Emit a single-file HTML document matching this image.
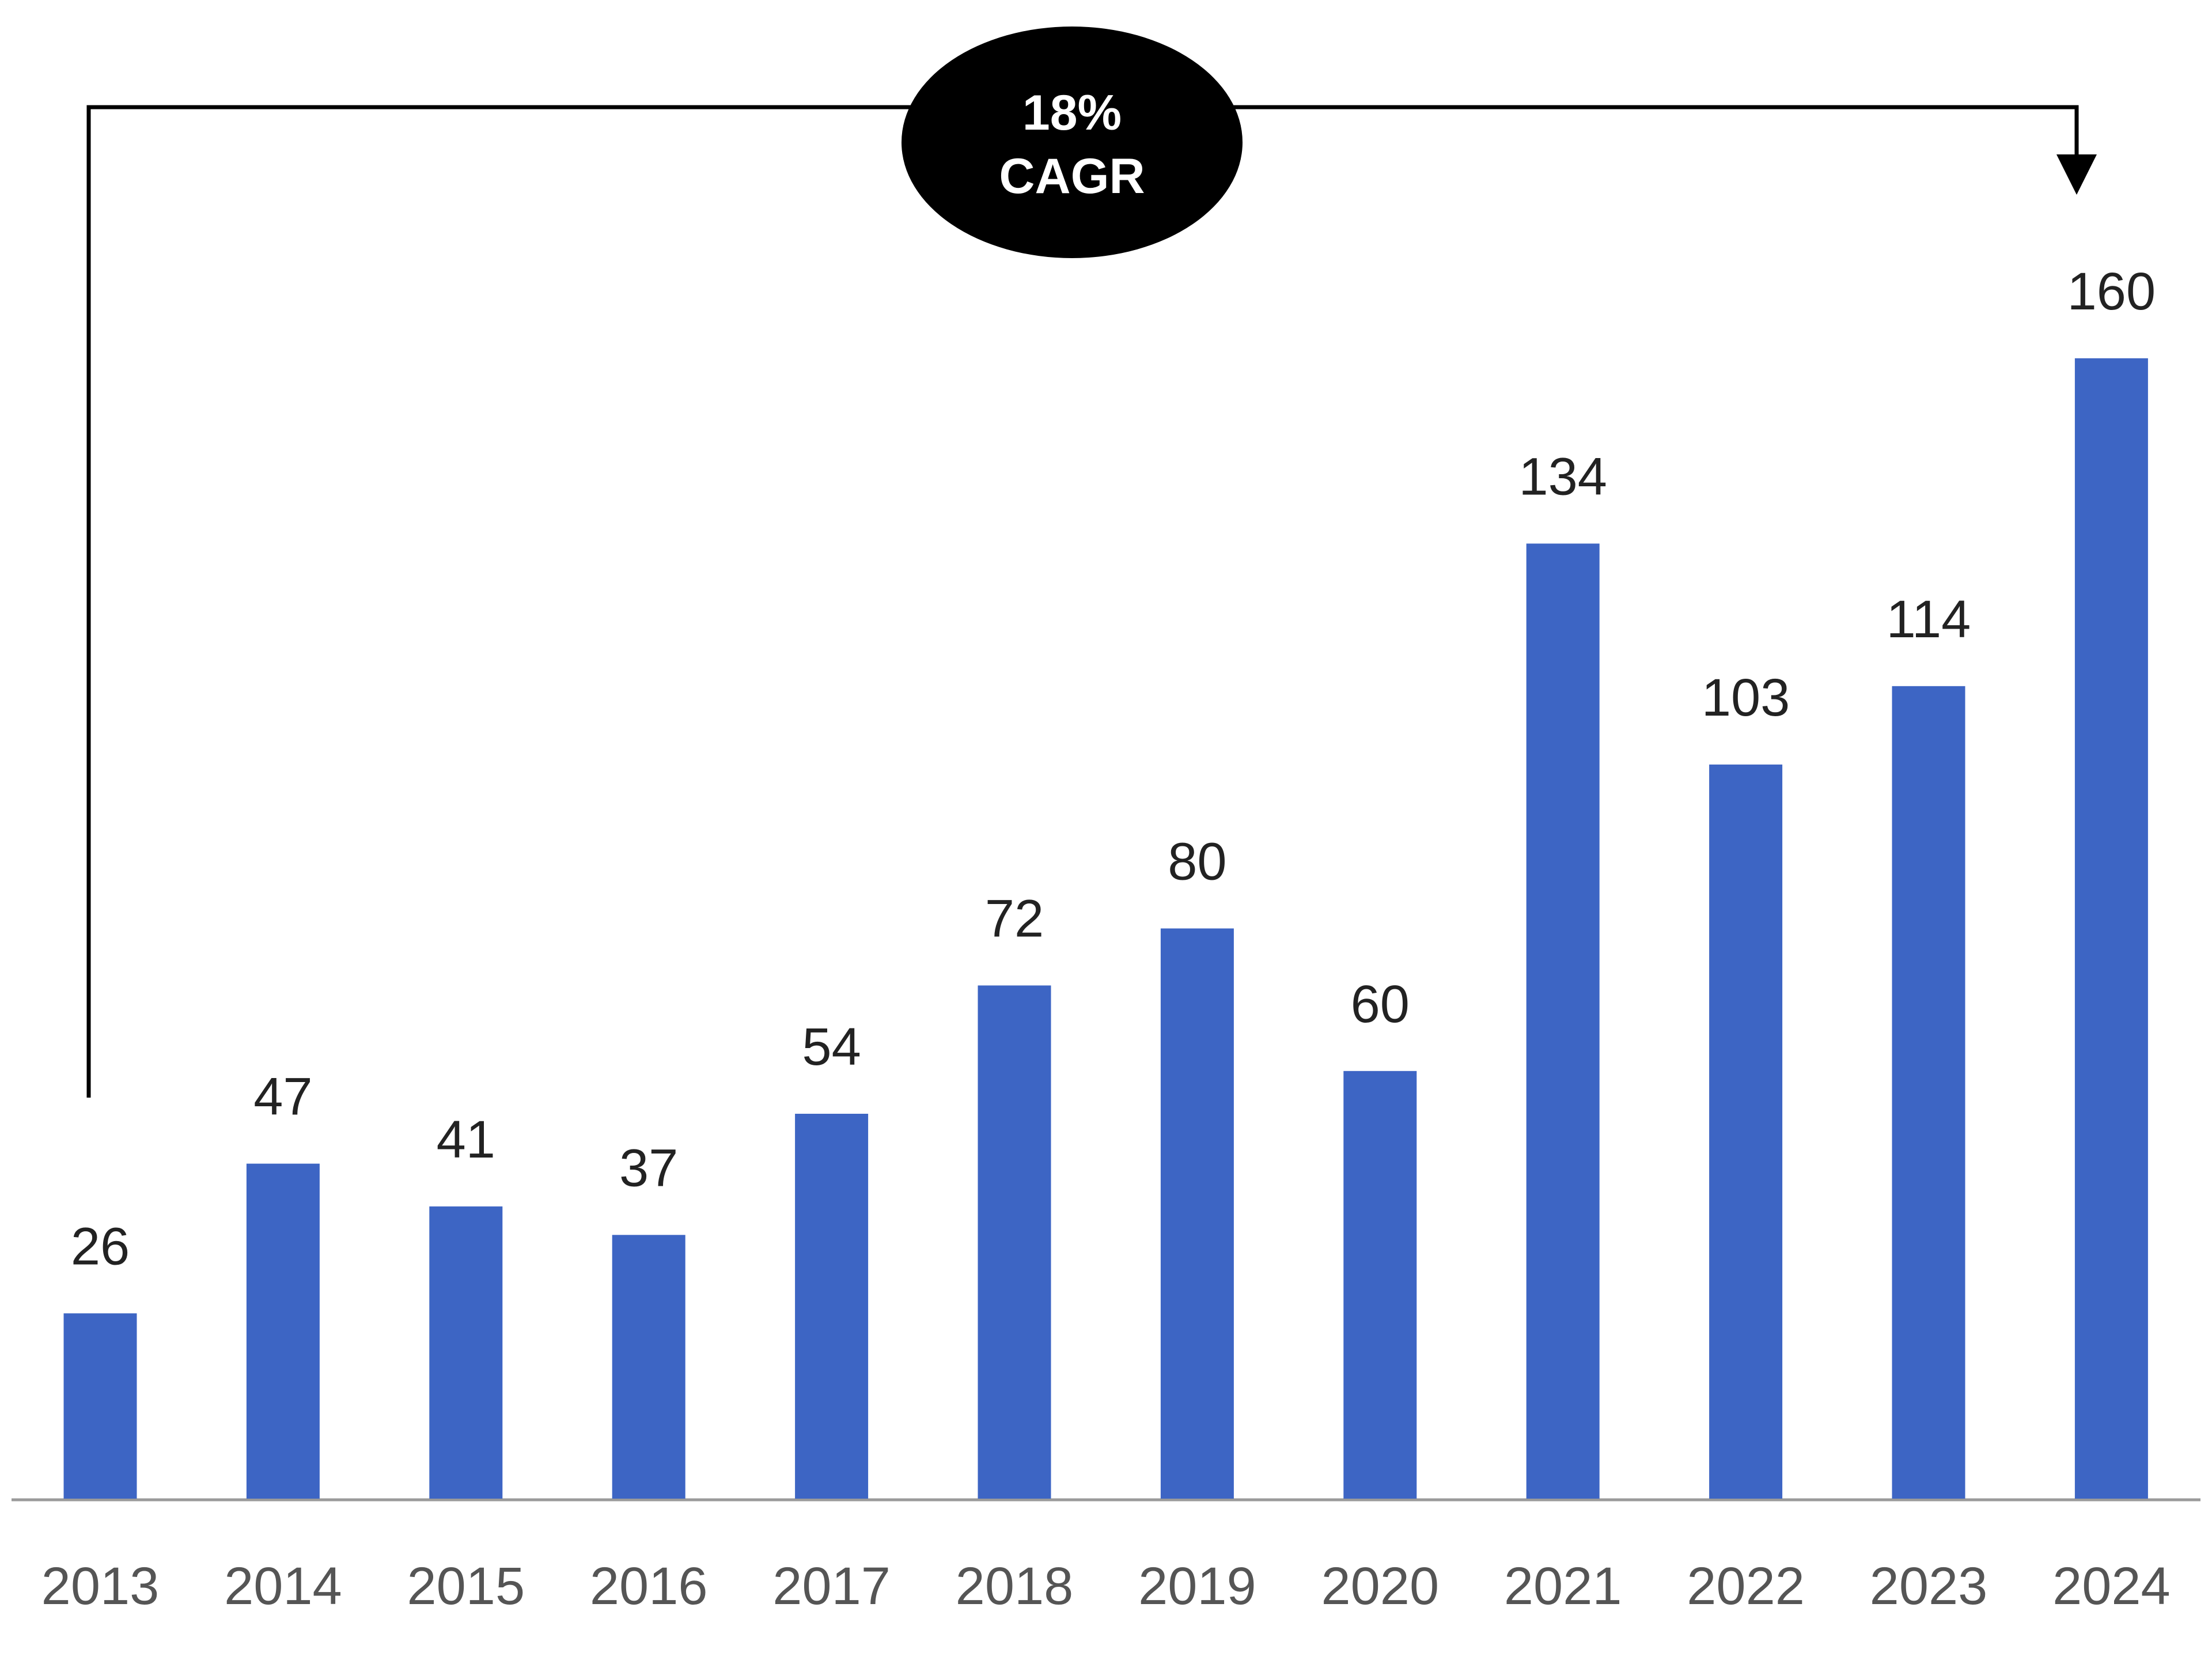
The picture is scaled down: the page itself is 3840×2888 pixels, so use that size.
<!DOCTYPE html>
<html><head><meta charset="utf-8"><style>
html,body{margin:0;padding:0;background:#fff;}
svg{display:block;font-family:"Liberation Sans",sans-serif;}
</style></head><body>
<svg id="chart" width="3840" height="2888" viewBox="0 0 3840 2888" xmlns="http://www.w3.org/2000/svg">
<line x1="20" y1="2603" x2="3820" y2="2603" stroke="#9a9a9a" stroke-width="5"/>
<g>
<polyline points="154,1905 154,186 3605,186 3605,275" fill="none" stroke="#000" stroke-width="7"/>
<polygon points="3570,268 3640,268 3605,338" fill="#000"/>
<ellipse cx="1861" cy="247" rx="296" ry="201" fill="#000"/>
<text x="1861" y="225" fill="#fff" font-size="86" font-weight="bold" text-anchor="middle">18%</text>
<text x="1861" y="335" fill="#fff" font-size="86" font-weight="bold" text-anchor="middle">CAGR</text>
</g>
<g id="bars"></g>
</svg>
<script>
const years = ["2013","2014","2015","2016","2017","2018","2019","2020","2021","2022","2023","2024"];
const values = [26,47,41,37,54,72,80,60,134,103,114,160];
const baseY = 2601, unit = 12.37, x0 = 174, step = 317.4, bw = 127;
const xScale = i => x0 + i * step;
const yScale = v => baseY - v * unit;
const ns = "http://www.w3.org/2000/svg";
const g = document.getElementById("bars");
years.forEach((yr, i) => {
  const cx = xScale(i), top = yScale(values[i]);
  const r = document.createElementNS(ns, "rect");
  r.setAttribute("x", cx - bw / 2);
  r.setAttribute("y", top);
  r.setAttribute("width", bw);
  r.setAttribute("height", baseY - top);
  r.setAttribute("fill", "#3d65c4");
  
  
  g.appendChild(r);
  const t = document.createElementNS(ns, "text");
  t.setAttribute("x", cx);
  t.setAttribute("y", top - 85);
  t.setAttribute("text-anchor", "middle");
  t.setAttribute("font-size", "92");
  t.setAttribute("fill", "#222");
  t.textContent = values[i];
  
  
  g.appendChild(t);
  const l = document.createElementNS(ns, "text");
  l.setAttribute("x", cx);
  l.setAttribute("y", 2784);
  l.setAttribute("text-anchor", "middle");
  l.setAttribute("font-size", "92");
  l.setAttribute("fill", "#555");
  l.textContent = yr;
  
  
  g.appendChild(l);
});
</script>
</body></html>
